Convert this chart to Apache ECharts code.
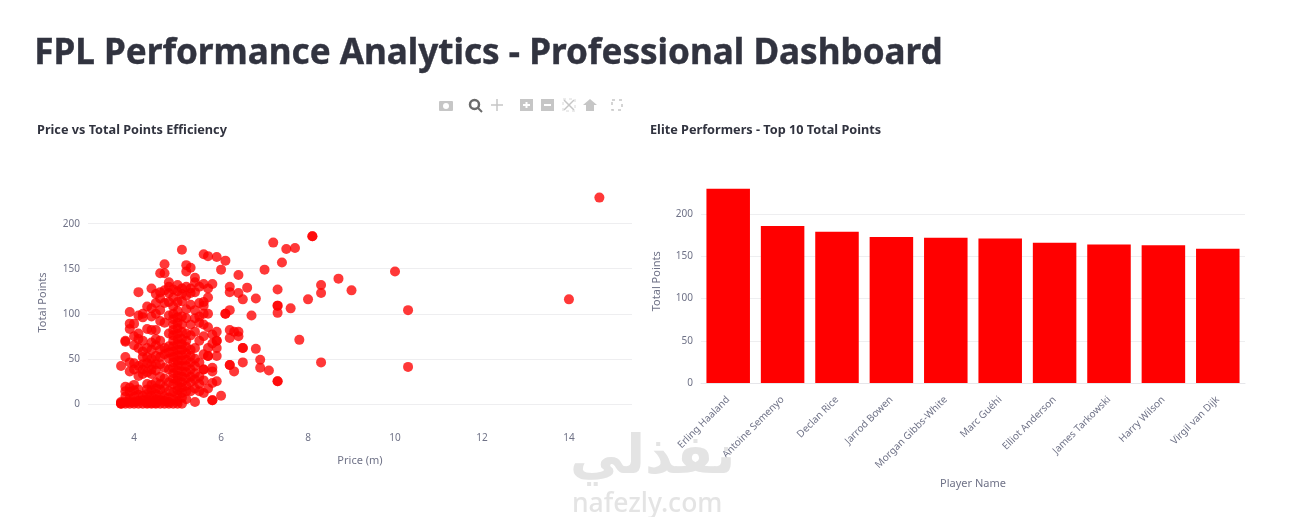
<!DOCTYPE html>
<html><head><meta charset="utf-8">
<style>html,body{margin:0;padding:0;background:#fff}#c{width:1297px;height:517px}</style>
<script src="https://cdn.jsdelivr.net/npm/echarts@6/dist/echarts.min.js"></script>
</head><body><div id="c"></div>
<script>
const pageTitle = "FPL Performance Analytics - Professional Dashboard";
const scatterTitle = "Price vs Total Points Efficiency";
const barTitle = "Elite Performers - Top 10 Total Points";
const players = ["Erling Haaland","Antoine Semenyo","Declan Rice","Jarrod Bowen","Morgan Gibbs-White","Marc Guéhi","Elliot Anderson","James Tarkowski","Harry Wilson","Virgil van Dijk"];
const playerPoints = [230,186,179,173,172,171,166,164,163,159];
const pointsByPrice = [
[3.7,[0,0,1,2,42]],
[3.8,[0,2,8,14,19,52,69,70]],
[3.9,[0,2,6,13,18,36,46,83,89,102]],
[4.0,[0,2,8,15,21,38,45,65,75,89]],
[4.1,[0,3,10,16,31,42,62,72,78,98,124]],
[4.2,[0,4,9,33,38,44,52,58,70,96,100]],
[4.3,[0,1,5,11,16,22,35,45,52,62,83,108]],
[4.4,[0,1,4,9,15,21,33,38,44,50,60,68,82,97,106,128]],
[4.5,[0,1,5,11,17,24,37,44,53,65,72,82,100,112,122]],
[4.6,[0,4,9,16,22,30,44,52,60,70,92,104,117,124,145]],
[4.7,[0,3,8,18,28,40,55,62,90,112,126,145,155]],
[4.8,[0,2,7,14,24,38,50,57,64,78,98,113,123,130,135]],
[4.9,[0,5,13,22,28,34,40,46,52,58,64,70,76,82,88,94,100,108,118,127]],
[5.0,[0,3,10,15,20,26,31,37,43,48,54,60,66,72,78,84,90,96,103,113,125,132]],
[5.1,[0,7,12,18,24,30,36,42,48,54,60,66,72,80,88,97,114,122,128,171]],
[5.2,[5,14,20,28,35,42,49,56,63,70,78,95,105,120,130,147,154]],
[5.3,[14,24,30,38,46,53,60,76,88,110,123,128,151]],
[5.4,[2,17,27,34,42,50,62,80,95,104,124,135,140]],
[5.5,[14,22,30,46,70,90,97,112,130]],
[5.6,[12,26,38,38,55,75,88,100,109,113,133,166]],
[5.7,[17,53,53,62,85,100,118,128,164]],
[5.8,[4,4,23,36,40,67,77,133]],
[5.9,[25,53,62,70,70,80,163]],
[6.0,[9,149]],
[6.1,[100,100,159]],
[6.2,[43,43,73,82,104,124,130]],
[6.3,[36,80]],
[6.4,[75,80,123,143]],
[6.5,[46,62,62,116]],
[6.6,[129]],[6.7,[98]],[6.8,[61,117]],[6.9,[40,49]],[7.0,[149]],[7.1,[37]],[7.2,[179]],
[7.3,[25,25,101,109,109,127]],
[7.4,[157]],[7.5,[172]],[7.6,[106]],[7.7,[173]],[7.8,[71]],[8.0,[116]],
[8.1,[186,186]],[8.3,[46,123,132]],[8.7,[139]],[9.0,[126]],
[10.0,[147]],[10.3,[41,104]],[14.0,[116]],[14.7,[229]]
];
const scatterData = pointsByPrice.flatMap(([p, list]) => list.map(v => [p, v]));
const xTicks = [4,6,8,10,12,14];
const yTicks = [0,50,100,150,200];

const textFont = "'Noto Sans'";
const axisColor = "#6f7287", gridColor = "#eeeef0", ink = "#31333f";
const ic = "#c6c6c6";
const graphics = [
  {type:'text', left:34, top:36, style:{text:pageTitle, font:"700 35.1px 'Noto Sans'", fill:ink, stroke:ink, lineWidth:0.4}},
  {type:'text', left:37, top:124, style:{text:scatterTitle, font:"700 12.7px 'Noto Sans'", fill:ink}},
  {type:'text', left:650, top:124, style:{text:barTitle, font:"700 12.7px 'Noto Sans'", fill:ink}},
  // modebar
  {type:'rect', shape:{x:439,y:101,width:14,height:10,r:1}, style:{fill:ic}},
  {type:'circle', shape:{cx:446,cy:106,r:3}, style:{fill:'#fff'}},
  {type:'circle', shape:{cx:474.5,cy:104.5,r:4.5}, style:{fill:'none',stroke:'#6a6a6a',lineWidth:2.5}},
  {type:'line', shape:{x1:478,y1:108,x2:482,y2:112}, style:{stroke:'#6a6a6a',lineWidth:2}},
  {type:'line', shape:{x1:491,y1:105,x2:503,y2:105}, style:{stroke:ic,lineWidth:1.5}},
  {type:'line', shape:{x1:497,y1:99,x2:497,y2:111}, style:{stroke:ic,lineWidth:1.5}},
  {type:'rect', shape:{x:520,y:99,width:13,height:12}, style:{fill:ic}},
  {type:'line', shape:{x1:523,y1:105,x2:530,y2:105}, style:{stroke:'#fff',lineWidth:2}},
  {type:'line', shape:{x1:526.5,y1:102,x2:526.5,y2:108}, style:{stroke:'#fff',lineWidth:2}},
  {type:'rect', shape:{x:541,y:99,width:13,height:12}, style:{fill:ic}},
  {type:'line', shape:{x1:544,y1:105,x2:551,y2:105}, style:{stroke:'#fff',lineWidth:2}},
  {type:'rect', shape:{x:563,y:99,width:12,height:12}, style:{fill:'none',stroke:'#d8d8d8',lineWidth:1,lineDash:[3,3]}},
  {type:'line', shape:{x1:564,y1:100,x2:574,y2:110}, style:{stroke:ic,lineWidth:1.5}},
  {type:'line', shape:{x1:574,y1:100,x2:564,y2:110}, style:{stroke:ic,lineWidth:1.5}},
  {type:'polygon', shape:{points:[[583,105],[590,99],[597,105]]}, style:{fill:ic}},
  {type:'rect', shape:{x:586,y:105,width:8,height:6}, style:{fill:ic}},
  {type:'rect', shape:{x:612,y:100,width:10,height:10}, style:{fill:'none',stroke:ic,lineWidth:1.5,lineDash:[3,4]}},
  // watermark
  {type:'text', z:50, left:570, top:432, style:{text:"نفذلي", font:"700 54px 'DejaVu Sans'", fill:'#e4e4e4'}},
  {type:'text', z:50, left:572, top:491, style:{text:"nafezly.com", font:"500 26.5px 'Noto Sans'", fill:'#e4e4e4'}}
];

const chart = echarts.init(document.getElementById('c'), null, {renderer:'canvas'});
const label = {color:axisColor, fontFamily:textFont, fontSize:10};
const nameStyle = {color:axisColor, fontFamily:textFont, fontSize:11};
chart.setOption({
  animation:false,
  backgroundColor:'#fff',
  graphic:graphics,
  grid:[
    {left:88, right:665, top:185, bottom:97},
    {left:701, right:52, top:179.5, bottom:134}
  ],
  xAxis:[
    {gridIndex:0, type:'value', min:2.94, max:15.45,
     axisLabel:{...label, margin:13, customValues:xTicks},
     axisTick:{show:false}, axisLine:{show:false}, splitLine:{show:false},
     name:'Price (m)', nameLocation:'middle', nameGap:35, nameTextStyle:nameStyle},
    {gridIndex:1, type:'category', data:players, axisTick:{show:false},
     axisLine:{lineStyle:{color:'#e6e6ea'}},
     axisLabel:{...label, rotate:45, margin:15, interval:0},
     name:'Player Name', nameLocation:'middle', nameGap:95, nameTextStyle:nameStyle}
  ],
  yAxis:[
    {gridIndex:0, type:'value', min:-18, max:243,
     axisLabel:{...label, customValues:yTicks, margin:8},
     axisTick:{show:false}, axisLine:{show:false},
     splitLine:{show:false},
     name:'Total Points', nameLocation:'middle', nameGap:40, nameTextStyle:nameStyle},
    {gridIndex:1, type:'value', min:0, max:241, interval:50,
     axisLabel:{...label, margin:8, showMaxLabel:false},
     axisTick:{show:false}, axisLine:{show:false},
     splitLine:{showMaxLine:false, lineStyle:{color:gridColor,width:1}},
     name:'Total Points', nameLocation:'middle', nameGap:39, nameTextStyle:nameStyle}
  ],
  series:[
    {type:'line', xAxisIndex:0, yAxisIndex:0, silent:true, symbol:'none', data:[],
     markLine:{silent:true, symbol:'none', label:{show:false}, z:1,
       lineStyle:{color:gridColor,width:1,type:'solid'},
       data:yTicks.map(v=>({yAxis:v}))}},
    {type:'scatter', xAxisIndex:0, yAxisIndex:0, data:scatterData, symbolSize:10, z:3,
     itemStyle:{color:'#ff0000', opacity:0.78}},
    {type:'bar', xAxisIndex:1, yAxisIndex:1, data:playerPoints, barWidth:'80%',
     itemStyle:{color:'#ff0000'}}
  ]
});
</script></body></html>
